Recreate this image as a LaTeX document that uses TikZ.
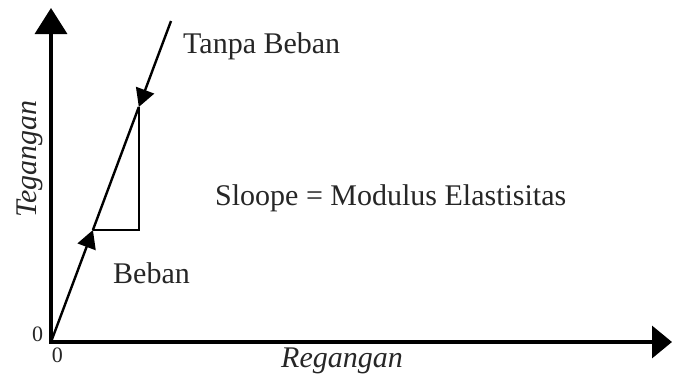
\documentclass[tikz,border=0pt]{standalone}
\usepackage{fontspec}
\setmainfont{Liberation Serif}
\usetikzlibrary{arrows.meta}
\begin{document}
\begin{tikzpicture}[x=1pt,y=-1pt,
  axisline/.style={line width=3.5pt,
    {Triangle[length=26pt,width=32pt]}-{Triangle[length=20pt,width=32pt]}},
  slopeline/.style={line width=2.4pt},
  tipped/.style={line width=2.4pt,-{Triangle[length=18pt,width=19pt]}},
  lbl/.style={font=\fontsize{30}{36}\selectfont,text=black!85,inner sep=0pt},
  zero/.style={font=\fontsize{22}{26}\selectfont,text=black!85,inner sep=0pt}]
\useasboundingbox (0,0) rectangle (673,381);

% axes and load line
\coordinate (O) at (51,342);
\coordinate (Ytop) at (51,8);
\coordinate (Xend) at (672,342);
\coordinate (T) at (171,21);
\coordinate (A) at (92.9,230);
\coordinate (B) at (138.8,107);
\coordinate (C) at (138.8,230);

\draw[axisline] (Ytop) -- (O) -- (Xend);
\draw[slopeline] (A) -- (B);
\draw[tipped] (O) -- (A);
\draw[tipped] (T) -- (B);
% slope triangle
\draw[line width=2.2pt] (A) -- (C) -- (B);

% labels
\node[lbl,anchor=base west] (tanpa) at (183,53) {Tanpa Beban};
\node[lbl,anchor=base west] (sloope) at (215,205) {Sloope = Modulus Elastisitas};
\node[lbl,anchor=base west] (beban) at (113,283) {Beban};
\node[lbl,anchor=base,font=\fontsize{30}{36}\selectfont\itshape] (xlab) at (342,367) {Regangan};
\node[lbl,anchor=base,rotate=90,font=\fontsize{30}{36}\selectfont\itshape] (ylab) at (36,159) {Tegangan};
\node[zero] (zy) at (37.5,334.5) {0};
\node[zero] (zx) at (57.5,355.5) {0};
\end{tikzpicture}
\end{document}
